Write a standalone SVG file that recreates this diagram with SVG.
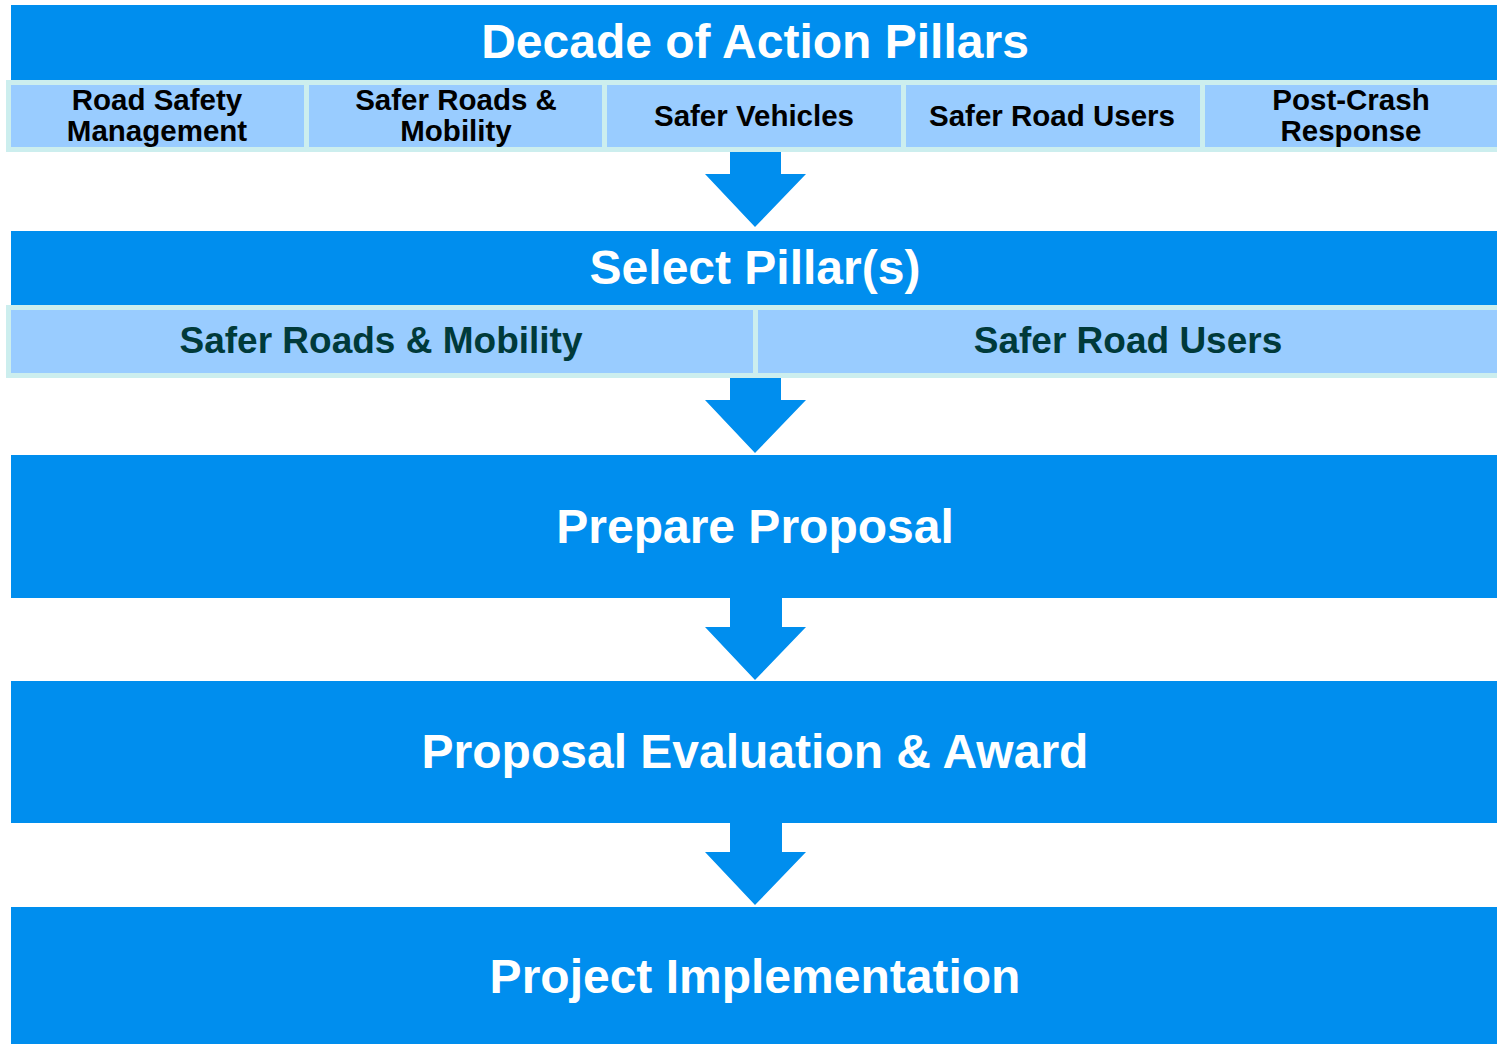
<svg xmlns="http://www.w3.org/2000/svg" width="1497" height="1044" viewBox="0 0 1497 1044">
<style>
.band{fill:#008EEE}
.cell{fill:#99CCFF;stroke:#CCEEEE;stroke-width:5}
.t{font-family:"Liberation Sans",Arial,sans-serif;font-weight:bold;text-anchor:middle}
.w{fill:#FFFFFF;font-size:48px}
.b{fill:#000000;font-size:29.5px}
.g{fill:#003A3A;font-size:37px}
.arrow{fill:#008EEE}
</style>
<rect width="1497" height="1044" fill="#FFFFFF"/>
<g id="pillars">
<rect class="band" x="11" y="5" width="1486" height="77"/>
<text class="t w" x="755" y="58">Decade of Action Pillars</text>
</g>
<g id="p1"><rect class="cell" x="8.5" y="82.5" width="298" height="67"/>
<text class="t b" x="157" y="110">Road Safety</text><text class="t b" x="157" y="141">Management</text></g>
<g id="p2"><rect class="cell" x="306.5" y="82.5" width="298" height="67"/>
<text class="t b" x="456" y="110">Safer Roads &amp;</text><text class="t b" x="456" y="141">Mobility</text></g>
<g id="p3"><rect class="cell" x="604.5" y="82.5" width="299" height="67"/>
<text class="t b" x="754" y="126">Safer Vehicles</text></g>
<g id="p4"><rect class="cell" x="903.5" y="82.5" width="299" height="67"/>
<text class="t b" x="1052" y="126">Safer Road Users</text></g>
<g id="p5"><rect class="cell" x="1202.5" y="82.5" width="297" height="67"/>
<text class="t b" x="1351" y="110">Post-Crash</text><text class="t b" x="1351" y="141">Response</text></g>

<g id="select">
<rect class="band" x="11" y="231" width="1486" height="76"/>
<text class="t w" x="755" y="284">Select Pillar(s)</text>
</g>
<g id="s1"><rect class="cell" x="8.5" y="307.5" width="747" height="68"/>
<text class="t g" x="381" y="353">Safer Roads &amp; Mobility</text></g>
<g id="s2"><rect class="cell" x="755.5" y="307.5" width="744" height="68"/>
<text class="t g" x="1128" y="353">Safer Road Users</text></g>

<g id="prepare">
<rect class="band" x="11" y="455" width="1486" height="143"/>
<text class="t w" x="755" y="543">Prepare Proposal</text>
</g>
<g id="evaluation">
<rect class="band" x="11" y="681" width="1486" height="142"/>
<text class="t w" x="755" y="768">Proposal Evaluation &amp; Award</text>
</g>
<g id="implementation">
<rect class="band" x="11" y="907" width="1486" height="137"/>
<text class="t w" x="755" y="993">Project Implementation</text>
</g>

<g id="connectors">
<polygon class="arrow" points="730,152 781,152 781,174 806,174 755,227 705,174 730,174"/>
<polygon class="arrow" points="730,378 781,378 781,400 806,400 755,453 705,400 730,400"/>
<polygon class="arrow" points="730,598 782,598 782,627 806,627 755,680 705,627 730,627"/>
<polygon class="arrow" points="730,823 782,823 782,852 806,852 755,905 705,852 730,852"/>
</g>
</svg>
